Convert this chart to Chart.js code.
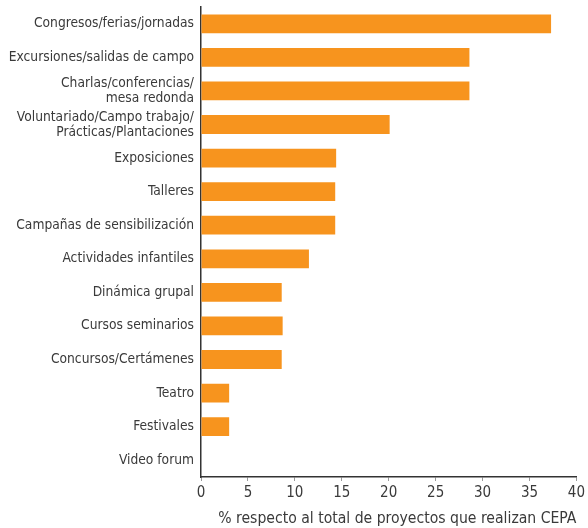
<!DOCTYPE html>
<html>
<head>
<meta charset="utf-8">
<script src="https://cdn.jsdelivr.net/npm/chart.js@4"></script>
<style>
  html, body { margin: 0; padding: 0; background: #fff; }
  #wrap { width: 588px; height: 528px; position: relative; }
</style>
</head>
<body>
<div id="wrap"><canvas id="c" width="588" height="528"></canvas></div>
<script>
const categories = [
  'Congresos/ferias/jornadas',
  'Excursiones/salidas de campo',
  ['Charlas/conferencias/', 'mesa redonda'],
  ['Voluntariado/Campo trabajo/', 'Prácticas/Plantaciones'],
  'Exposiciones',
  'Talleres',
  'Campañas de sensibilización',
  'Actividades infantiles',
  'Dinámica grupal',
  'Cursos seminarios',
  'Concursos/Certámenes',
  'Teatro',
  'Festivales',
  'Video forum'
];
const percentValues = [37.3, 28.6, 28.6, 20.1, 14.4, 14.3, 14.3, 11.5, 8.6, 8.7, 8.6, 3.0, 3.0, 0];
const xTicks = [0, 5, 10, 15, 20, 25, 30, 35, 40];
const xTitle = '% respecto al total de proyectos que realizan CEPA';

const FONT = '"DejaVu Sans Condensed", "Roboto", sans-serif';
const TEXT = '#3a3a3a';
const AXIS = '#333333';

new Chart(document.getElementById('c'), {
  type: 'bar',
  data: {
    labels: categories,
    datasets: [{
      data: percentValues,
      backgroundColor: '#F7941E',
      borderWidth: 0,
      barPercentage: 0.56,
      categoryPercentage: 1.0
    }]
  },
  options: {
    indexAxis: 'y',
    responsive: false,
    animation: false,
    layout: { padding: { top: 7, right: 6, left: 0, bottom: 0 } },
    plugins: { legend: { display: false }, tooltip: { enabled: false } },
    scales: {
      x: {
        min: 0, max: 40,
        afterBuildTicks: s => { s.ticks = xTicks.map(v => ({ value: v })); },
        afterFit: s => { s.height = 51; },
        grid: { display: true, drawOnChartArea: false, drawTicks: true, tickLength: 4, color: '#9a9a9a', lineWidth: 1 },
        border: { display: true, color: AXIS, width: 1.5 },
        ticks: { color: TEXT, font: { family: FONT, size: 15 }, padding: 3, maxRotation: 0 },
        title: {
          display: true, text: xTitle, align: 'end', color: TEXT,
          font: { family: FONT, size: 15.6 }, padding: { top: 4, bottom: 0 }
        }
      },
      y: {
        afterFit: s => { s.width = 201; s.paddingTop = 0; s.paddingBottom = 0; },
        grid: { display: false, drawTicks: false },
        border: { display: true, color: AXIS, width: 1.5 },
        ticks: { color: TEXT, font: { family: FONT, size: 13.7, lineHeight: 1.1 }, padding: 7, autoSkip: false }
      }
    }
  }
});
</script>
</body>
</html>
